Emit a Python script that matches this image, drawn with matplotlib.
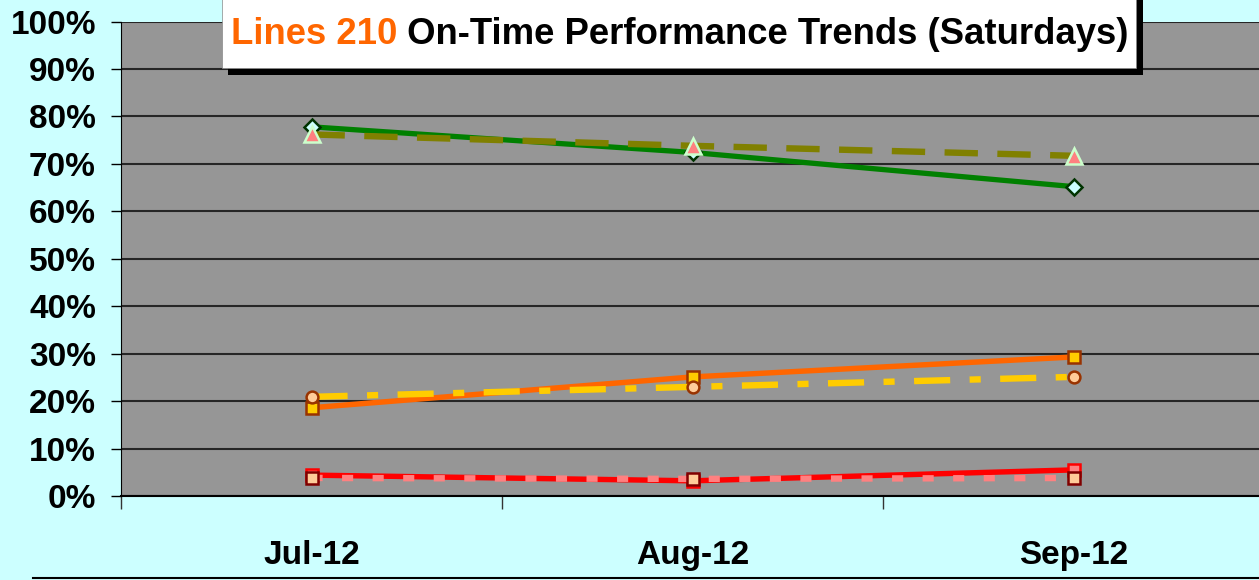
import matplotlib.pyplot as plt
from matplotlib.patches import Rectangle
from matplotlib.lines import Line2D

plt.rcParams['font.family'] = ['Liberation Sans', 'DejaVu Sans']
plt.rcParams['font.weight'] = 'bold'
plt.rcParams['lines.scale_dashes'] = False

# data (fraction of trips on time)
months = ['Jul-12', 'Aug-12', 'Sep-12']
green_solid = [0.778, 0.724, 0.652]
olive_dash = [0.762, 0.738, 0.717]
orange_solid = [0.186, 0.251, 0.293]
yellow_dashdot = [0.209, 0.230, 0.251]
red_solid = [0.044, 0.032, 0.055]
pink_dot = [0.038, 0.036, 0.038]

W, H = 1259, 580
fig = plt.figure(figsize=(W / 100, H / 100), dpi=100, facecolor='#CCFFFF')

def fx(px):
    return px / W

def fy(py):
    return 1 - py / H

ax = fig.add_axes([fx(121), fy(496), fx(1264) - fx(121), fy(21.5) - fy(496)])
ax.set_facecolor('#969696')
x = range(len(months))

ax.plot(x, green_solid, color='#008000', lw=3.8, marker='D', ms=8,
        mfc='#CCFFFF', mec='#003300', mew=1.8, zorder=3)
ax.plot(x, olive_dash, color='#808000', lw=4.6, dashes=(24, 14),
        marker='^', ms=12, mfc='#FF8080', mec='#CCFFCC', mew=1.8, zorder=3)
ax.plot(x, orange_solid, color='#FF6600', lw=3.9, marker='s', ms=9,
        mfc='#FFCC00', mec='#993300', mew=1.8, zorder=3)
ax.plot(x, yellow_dashdot, color='#FFCC00', lw=4.6, dashes=(26, 14, 8, 14),
        marker='o', ms=8.5, mfc='#FFCC99', mec='#993300', mew=1.8, zorder=3)
ax.plot(x, red_solid, color='#FF0000', lw=3.9, marker='s', ms=9,
        mfc='#FF8080', mec='#FF0000', mew=1.8, zorder=3)
ax.plot(x, pink_dot, color='#FF8080', lw=4.6, dashes=(8, 14),
        marker='s', ms=9, mfc='#FFCC99', mec='#800000', mew=1.8, zorder=3)

ax.set_xlim(-0.5, 2.5)
ax.set_ylim(0, 1)
ax.set_yticks([i / 10 for i in range(11)])
ax.set_yticklabels(['{}%'.format(i * 10) for i in range(11)])
ax.yaxis.grid(True, color='#262626', lw=1.5)
ax.set_axisbelow(True)

ax.set_xticks(list(x))
ax.set_xticklabels(months)
ax.set_xticks([-0.5, 0.5, 1.5], minor=True)
ax.tick_params(axis='x', which='major', length=0, pad=32, labelsize=24)
ax.tick_params(axis='x', which='minor', length=9, width=1, color='#333333')
ax.tick_params(axis='y', length=7, width=1, pad=11, labelsize=24)

for s in ['top', 'right']:
    ax.spines[s].set_visible(False)
ax.spines['left'].set_color('black')
ax.spines['bottom'].set_color('black')
ax.spines['bottom'].set_linewidth(1.5)

# title box with shadow
fig.patches.append(Rectangle((fx(228), fy(75)), fx(1143) - fx(228), fy(-10) - fy(75),
                             transform=fig.transFigure, facecolor='black', zorder=5))
fig.patches.append(Rectangle((fx(222), fy(68)), fx(1136) - fx(222), fy(-10) - fy(68),
                             transform=fig.transFigure, facecolor='white',
                             edgecolor='#888888', lw=0.5, zorder=6))
t1 = fig.text(fx(231), fy(44), 'Lines 210', color='#FF6600', fontsize=26.3,
              fontweight='bold', va='baseline', ha='left', zorder=7)
fig.canvas.draw()
bb = t1.get_window_extent()
fig.text(bb.x1 / W, fy(44), ' On-Time Performance Trends (Saturdays)', color='black',
         fontsize=26.3, fontweight='bold', va='baseline', ha='left', zorder=7)

fig.lines.append(Line2D([fx(33), 1], [fy(578), fy(578)], transform=fig.transFigure,
                        color='black', lw=1.5))

fig.savefig('out.png', dpi=100, facecolor=fig.get_facecolor())
